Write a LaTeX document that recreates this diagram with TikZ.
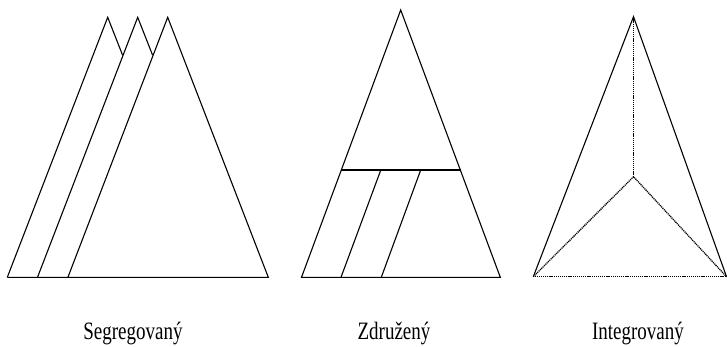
\documentclass[tikz,border=0pt]{standalone}
\usepackage{fontspec}
\newfontfamily\labelfont{Liberation Serif}[FakeStretch=0.76]
\usetikzlibrary{calc}

\tikzset{
  edge/.style={line width=1.1pt, line join=miter},
  dots/.style={line width=1.3pt, dash pattern=on 1.1pt off 0.8pt},
  caption/.style={font=\labelfont\fontsize{25}{30}\selectfont, anchor=base, inner sep=0pt}
}

\begin{document}
\begin{tikzpicture}[x=1pt, y=-1pt]
  \useasboundingbox (0,0) rectangle (727,347);
  %
  % ── Segregovaný: three overlapping triangles ──
  \coordinate (sA) at (107.7,17.3);
  \coordinate (sB) at (137.7,17.3);
  \coordinate (sC) at (167.7,17.3);
  \coordinate (sL1) at (7.3,277.3);
  \coordinate (sL2) at (37.5,277.3);
  \coordinate (sL3) at (67.9,277.3);
  \coordinate (sR) at (268.3,277.3);
  \coordinate (sX1) at (122.6,55.2);
  \coordinate (sX2) at (152.6,55.2);
  \draw[edge] (sL1) -- (sA) -- (sX1);
  \draw[edge] (sL2) -- (sB) -- (sX2);
  \draw[edge] (sL3) -- (sC) -- (sR) -- (sL1);
  \node[caption] (seg) at (133,339.3) {Segregovaný};
  %
  % ── Združený: split triangle ──
  \coordinate (zA) at (400.7,10);
  \coordinate (zL) at (301.5,277.3);
  \coordinate (zR) at (500.3,277.3);
  \coordinate (zH1) at (341,170);
  \coordinate (zH2) at (460.6,170);
  \coordinate (zT1) at (380.8,170);
  \coordinate (zT2) at (420.7,170);
  \coordinate (zB1) at (341,277.3);
  \coordinate (zB2) at (381.3,277.3);
  \draw[edge] (zL) -- (zA) -- (zR) -- cycle;
  \draw[edge] (zH1) -- (zH2);
  \draw[edge] (zT1) -- (zB1);
  \draw[edge] (zT2) -- (zB2);
  \node[caption] (zdr) at (394,339.3) {Združený};
  %
  % ── Integrovaný: triangle with hidden edges ──
  \coordinate (iA) at (633.5,16.7);
  \coordinate (iL) at (533.3,276.7);
  \coordinate (iR) at (726.5,276.7);
  \coordinate (iM) at (633.5,176.7);
  \draw[edge] (iL) -- (iA) -- (iR);
  \draw[dots] (iL) -- (iR);
  \draw[dots] (iA) -- (iM);
  \draw[dots] (iL) -- (iM) -- (iR);
  \node[caption] (int) at (638,339.3) {Integrovaný};
\end{tikzpicture}
\end{document}
